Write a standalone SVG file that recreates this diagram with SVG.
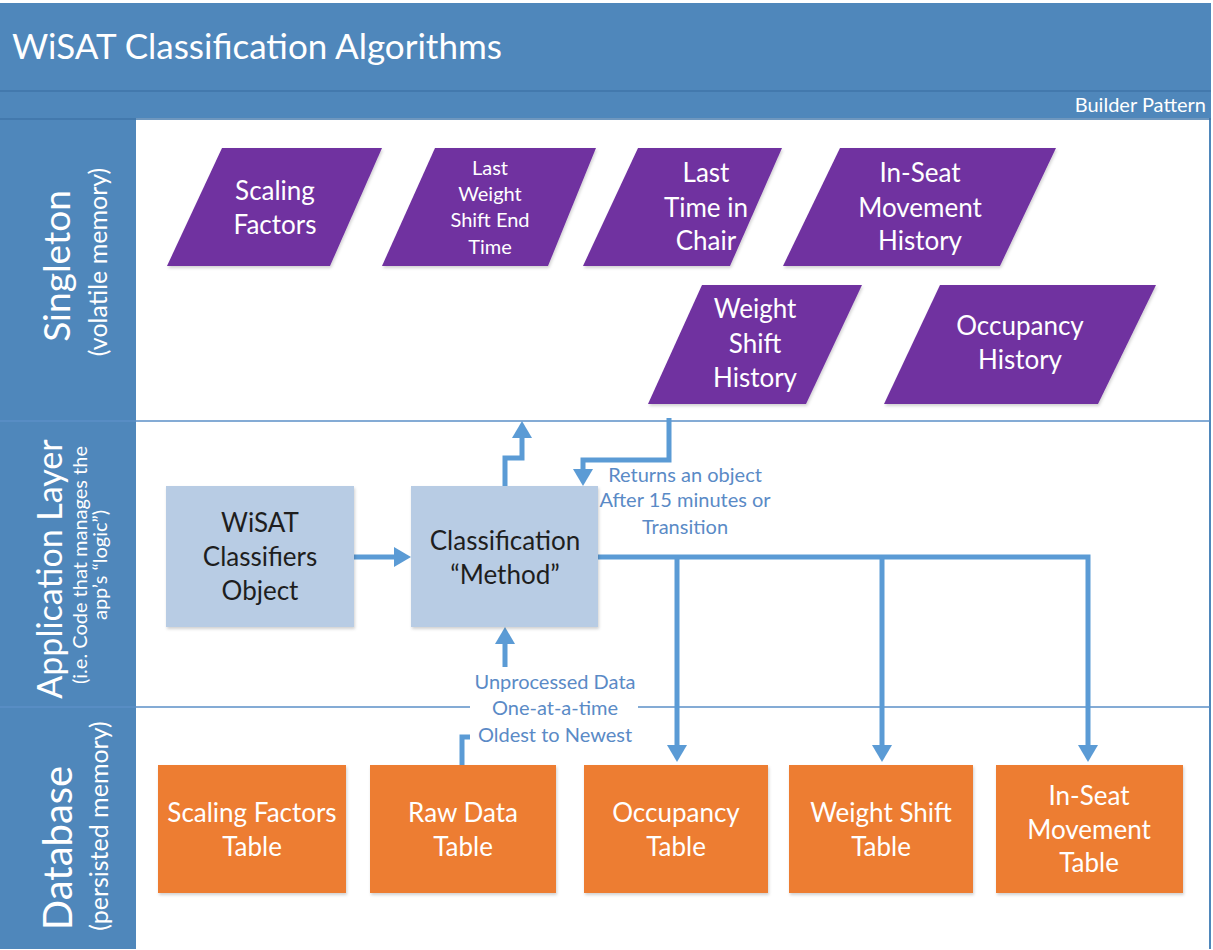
<svg xmlns="http://www.w3.org/2000/svg" width="1213" height="950" viewBox="0 0 1213 950">
<defs>
<style>
.hdr{fill:#4F87BB}
.lane{stroke:#5B8FC7;stroke-width:1.5;fill:none}
.para{fill:#7030A0}
.lb{fill:#B8CCE4}
.or{fill:#ED7D31}
.conn{stroke:#5B9BD5;stroke-width:5;fill:none}
.w{fill:#FFFFFF;font-family:Lato,"Liberation Sans",sans-serif}
.k{fill:#1E1E1E;font-family:Lato,"Liberation Sans",sans-serif}
.lbl{fill:#5A8AC6;font-family:Lato,"Liberation Sans",sans-serif;font-size:20px;text-anchor:middle}
.c{text-anchor:middle}
.bx{font-size:26px}
</style>
<marker id="ah" markerWidth="17" markerHeight="20" refX="8" refY="10" orient="auto" markerUnits="userSpaceOnUse">
<path d="M0,0 L17,10 L0,20 Z" fill="#5B9BD5"/>
</marker>
<filter id="sh" x="-10%" y="-10%" width="120%" height="120%">
<feDropShadow dx="1" dy="2" stdDeviation="1.5" flood-color="#000" flood-opacity="0.18"/>
</filter>
</defs>

<rect x="0" y="0" width="1213" height="950" fill="#FFFFFF"/>
<g id="frame">
<rect class="hdr" x="0" y="3" width="1211" height="115"/>
<line x1="0" y1="91" x2="1211" y2="91" stroke="#3F74A8" stroke-width="1.5"/>
<rect class="hdr" x="0" y="118" width="136" height="831"/>
<rect x="136" y="118" width="1073" height="831" fill="#FFFFFF"/>
<line x1="1210" y1="118" x2="1210" y2="949" stroke="#4F87BB" stroke-width="2"/>
<line x1="0" y1="119" x2="1211" y2="119" stroke="#3F74A8" stroke-width="1.5"/>
<line class="lane" x1="0" y1="421" x2="1210" y2="421"/>
<line class="lane" x1="0" y1="707" x2="1210" y2="707"/>
<text class="w" x="12" y="59" font-size="35">WiSAT Classification Algorithms</text>
<text class="w" x="1206" y="112" font-size="20" text-anchor="end">Builder Pattern</text>
</g>

<g id="lane-labels">
<g transform="translate(70,266) rotate(-90)">
<text class="w c" x="0" y="0" font-size="37">Singleton</text>
<text class="w c" x="4" y="37" font-size="25">(volatile memory)</text>
</g>
<g transform="translate(62,569) rotate(-90)">
<text class="w c" x="0" y="0" font-size="34">Application Layer</text>
<text class="w c" x="4" y="25" font-size="20">(i.e. Code that manages the</text>
<text class="w c" x="4" y="45" font-size="20">app’s “logic”)</text>
</g>
<g transform="translate(72,848) rotate(-90)">
<text class="w c" x="0" y="0" font-size="40">Database</text>
<text class="w c" x="22" y="36" font-size="25">(persisted memory)</text>
</g>
</g>

<g id="connectors">
<path class="conn" d="M354,557 L402,557" marker-end="url(#ah)"/>
<path class="conn" d="M505,486 L505,458 L522,458 L522,430" marker-end="url(#ah)"/>
<path class="conn" d="M669,418 L669,460 L583,460 L583,477" marker-end="url(#ah)"/>
<path class="conn" d="M598,557 L1088,557 L1088,753" marker-end="url(#ah)"/>
<path class="conn" d="M677,557 L677,753" marker-end="url(#ah)"/>
<path class="conn" d="M882,557 L882,753" marker-end="url(#ah)"/>
<path class="conn" d="M462,765 L462,737 L505,737 L505,636" marker-end="url(#ah)"/>
<rect x="470" y="667" width="168" height="82" fill="#FFFFFF"/>
<text class="lbl" x="555" y="689">Unprocessed Data</text>
<text class="lbl" x="555" y="715">One-at-a-time</text>
<text class="lbl" x="555" y="742">Oldest to Newest</text>
<text class="lbl" x="685" y="482">Returns an object</text>
<text class="lbl" x="685" y="507">After 15 minutes or</text>
<text class="lbl" x="685" y="534">Transition</text>
</g>

<g id="n-scaling-factors">
<polygon class="para" filter="url(#sh)" points="222,148 382,148 330,266 167,266"/>
<text class="w c bx" x="275" y="200">Scaling</text>
<text class="w c bx" x="275" y="234">Factors</text>
</g>
<g id="n-last-weight-shift">
<polygon class="para" filter="url(#sh)" points="435,148 596,148 548,266 382,266"/>
<text class="w c" x="490" y="175" font-size="20">Last</text>
<text class="w c" x="490" y="201" font-size="20">Weight</text>
<text class="w c" x="490" y="227" font-size="20">Shift End</text>
<text class="w c" x="490" y="254" font-size="20">Time</text>
</g>
<g id="n-last-time-chair">
<polygon class="para" filter="url(#sh)" points="638,148 782,148 730,266 583,266"/>
<text class="w c bx" x="706" y="182">Last</text>
<text class="w c bx" x="706" y="217">Time in</text>
<text class="w c bx" x="706" y="250">Chair</text>
</g>
<g id="n-inseat-history">
<polygon class="para" filter="url(#sh)" points="840,148 1056,148 1000,266 783,266"/>
<text class="w c bx" x="920" y="182">In-Seat</text>
<text class="w c bx" x="920" y="217">Movement</text>
<text class="w c bx" x="920" y="250">History</text>
</g>
<g id="n-weight-shift-history">
<polygon class="para" filter="url(#sh)" points="702,285 862,285 806,404 648,404"/>
<text class="w c bx" x="755" y="318">Weight</text>
<text class="w c bx" x="755" y="353">Shift</text>
<text class="w c bx" x="755" y="387">History</text>
</g>
<g id="n-occupancy-history">
<polygon class="para" filter="url(#sh)" points="940,285 1156,285 1098,404 884,404"/>
<text class="w c bx" x="1020" y="335">Occupancy</text>
<text class="w c bx" x="1020" y="369">History</text>
</g>

<g id="n-wisat-classifiers">
<rect class="lb" filter="url(#sh)" x="166" y="486" width="188" height="141"/>
<text class="k c bx" x="260" y="532">WiSAT</text>
<text class="k c bx" x="260" y="566">Classifiers</text>
<text class="k c bx" x="260" y="600">Object</text>
</g>
<g id="n-classification-method">
<rect class="lb" filter="url(#sh)" x="411" y="486" width="187" height="141"/>
<text class="k c bx" x="505" y="550">Classification</text>
<text class="k c bx" x="505" y="584">“Method”</text>
</g>

<g id="n-scaling-table">
<rect class="or" filter="url(#sh)" x="158" y="765" width="188" height="128"/>
<text class="w c bx" x="252" y="822">Scaling Factors</text>
<text class="w c bx" x="252" y="856">Table</text>
</g>
<g id="n-raw-table">
<rect class="or" filter="url(#sh)" x="370" y="765" width="186" height="128"/>
<text class="w c bx" x="463" y="822">Raw Data</text>
<text class="w c bx" x="463" y="856">Table</text>
</g>
<g id="n-occupancy-table">
<rect class="or" filter="url(#sh)" x="584" y="765" width="184" height="128"/>
<text class="w c bx" x="676" y="822">Occupancy</text>
<text class="w c bx" x="676" y="856">Table</text>
</g>
<g id="n-weight-table">
<rect class="or" filter="url(#sh)" x="789" y="765" width="184" height="128"/>
<text class="w c bx" x="881" y="822">Weight Shift</text>
<text class="w c bx" x="881" y="856">Table</text>
</g>
<g id="n-inseat-table">
<rect class="or" filter="url(#sh)" x="996" y="765" width="187" height="128"/>
<text class="w c bx" x="1089" y="805">In-Seat</text>
<text class="w c bx" x="1089" y="839">Movement</text>
<text class="w c bx" x="1089" y="872">Table</text>
</g>
</svg>
